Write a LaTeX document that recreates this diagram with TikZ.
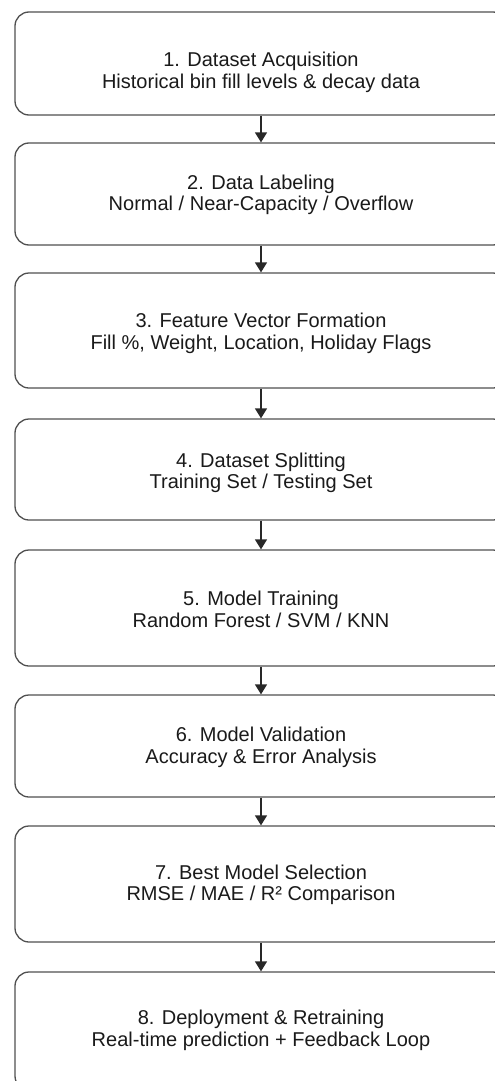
\documentclass[tikz,border=0pt]{standalone}
\usepackage{fontspec}
\setmainfont{Liberation Sans}
\usetikzlibrary{arrows.meta}
\definecolor{boxgray}{HTML}{505050}
\definecolor{arrowgray}{HTML}{282828}
\definecolor{textgray}{HTML}{1A1A1A}
\begin{document}
\begin{tikzpicture}[x=1pt,y=-1pt,
  stepbox/.style={draw=boxgray, line width=1.3pt, rounded corners=14pt, fill=white, minimum width=492pt, inner sep=0pt},
  steptext/.style={align=center, font=\fontsize{20}{21.5}\selectfont, text=textgray, inner sep=0pt},
  flow/.style={draw=arrowgray, line width=1.4pt, -{Triangle[length=10pt,width=12pt]}}]
\useasboundingbox (0,0) rectangle (495,1081);
\clip (0,0) rectangle (495,1081);
% boxes
\node[stepbox, minimum height=103pt] (b1) at (261,63.5) {};
\node[stepbox, minimum height=102pt] (b2) at (261,194) {};
\node[stepbox, minimum height=115pt] (b3) at (261,330.5) {};
\node[stepbox, minimum height=101pt] (b4) at (261,469.5) {};
\node[stepbox, minimum height=116pt] (b5) at (261,608) {};
\node[stepbox, minimum height=102pt] (b6) at (261,746) {};
\node[stepbox, minimum height=116pt] (b7) at (261,884) {};
\node[stepbox, minimum height=118pt] (b8) at (261,1031) {};
% texts
\node[steptext] (t1) at (261,72.5) {1. Dataset Acquisition\\Historical bin fill levels \& decay data};
\node[steptext] (t2) at (261,195) {2. Data Labeling\\Normal / Near-Capacity / Overflow};
\node[steptext] (t3) at (261,333.5) {3. Feature Vector Formation\\Fill \%, Weight, Location, Holiday Flags};
\node[steptext] (t4) at (261,473) {4. Dataset Splitting\\Training Set / Testing Set};
\node[steptext] (t5) at (261,609.5) {5. Model Training\\Random Forest / SVM / KNN};
\node[steptext] (t6) at (261,747.5) {6. Model Validation\\Accuracy \& Error Analysis};
\node[steptext] (t7) at (261,885) {7. Best Model Selection\\RMSE / MAE / R² Comparison};
\node[steptext] (t8) at (261,1030.5) {8. Deployment \& Retraining\\Real-time prediction + Feedback Loop};
% connectors
\draw[flow] (b1.south) -- (b2.north);
\draw[flow] (b2.south) -- (b3.north);
\draw[flow] (b3.south) -- (b4.north);
\draw[flow] (b4.south) -- (b5.north);
\draw[flow] (b5.south) -- (b6.north);
\draw[flow] (b6.south) -- (b7.north);
\draw[flow] (b7.south) -- (b8.north);
\end{tikzpicture}
\end{document}
